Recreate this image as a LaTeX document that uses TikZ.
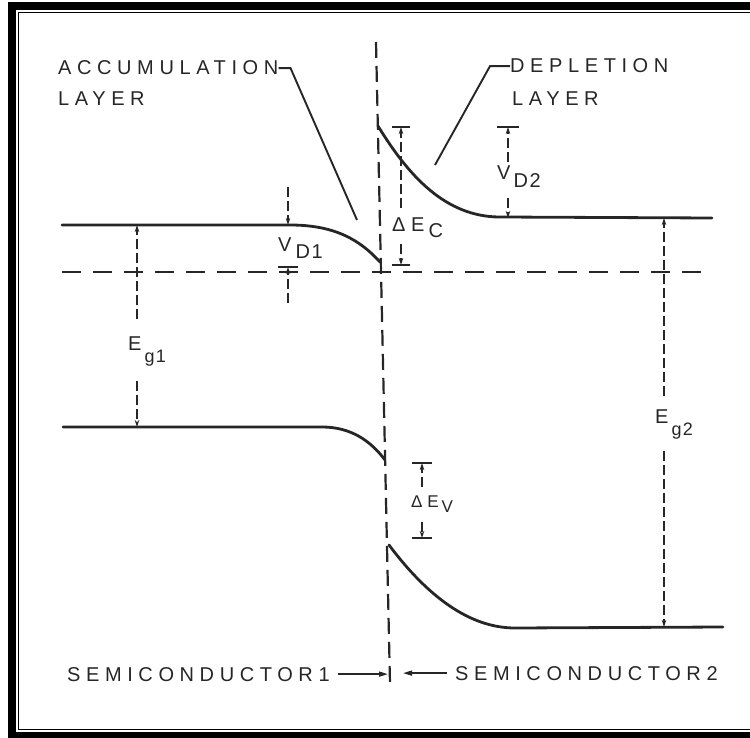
\documentclass[tikz,border=0pt]{standalone}
\usepackage{fontspec}
\newfontfamily\lettering[LetterSpace=28]{Liberation Sans}
\newfontfamily\subfont[LetterSpace=8]{Liberation Sans}
\usetikzlibrary{arrows.meta}
\definecolor{ink}{HTML}{262626}
\newcommand\lowtext{}
\newcommand\lowsub[2]{\rlap{\hspace{#1pt}\raisebox{-#2pt}{\lowtext}}}
\newcommand\subl[3]{\renewcommand\lowtext{#3}\lowsub{#1}{#2}}
\begin{document}
\begin{tikzpicture}[x=1pt,y=-1pt,
  band/.style={draw=ink,line width=2.8pt,line cap=round},
  fermi/.style={draw=ink,line width=2.6pt,dash pattern=on 19pt off 12pt},
  iface/.style={draw=ink,line width=2.2pt,dash pattern=on 16pt off 8pt},
  dimline/.style={draw=ink,line width=1.3pt,dash pattern=on 10pt off 4pt,-{Stealth[length=7pt,width=4.5pt]}},
  bar/.style={draw=ink,line width=2pt},
  leader/.style={draw=ink,line width=1.9pt},
  pointer/.style={draw=ink,line width=1.5pt,-{Triangle[length=9pt,width=5pt]}},
  lbl/.style={text=ink,inner sep=0pt,font=\lettering\fontsize{20}{22}\selectfont},
  smalllbl/.style={lbl,font=\lettering\fontsize{17}{19}\selectfont}]
\useasboundingbox (0,0) rectangle (750,738);
\draw[line width=7.8pt] (12,6) rectangle (775,736);
\draw[line width=1.4pt] (18.5,12.7) rectangle (760,729.3);
\coordinate (cb1) at (62,225); \coordinate (cb1k) at (290,225); \coordinate (cb1e) at (380,262);
\coordinate (cb2s) at (378,126); \coordinate (cb2k) at (500,217); \coordinate (cb2e) at (712,218);
\coordinate (vb1) at (63,427); \coordinate (vb1k) at (322,427); \coordinate (vb1e) at (385,460);
\coordinate (vb2s) at (389,545); \coordinate (vb2k) at (515,628); \coordinate (vb2e) at (723,627);
\draw[band] (cb1) -- (cb1k) .. controls (335,225) and (360,240) .. (cb1e);
\draw[band] (cb2s) .. controls (408,175) and (445,217) .. (cb2k) -- (cb2e);
\draw[band] (vb1) -- (vb1k) .. controls (350,427) and (370,440) .. (vb1e);
\draw[band] (vb2s) .. controls (428,597) and (470,628) .. (vb2k) -- (vb2e);
\draw[fermi] (62,272) -- (712,272);
\draw[iface] (376,42) -- (390,684);
\node[lbl,anchor=base west] (accum) at (58,75) {ACCUMULATION};
\node[lbl,anchor=base west] (accumlay) at (58,106) {LAYER};
\node[lbl,anchor=base west] (depl) at (510,73) {DEPLETION};
\node[lbl,anchor=base west] (depllay) at (512,106) {LAYER};
\coordinate (accumtip) at (357,220);
\coordinate (depltip) at (435,165);
\draw[leader] (accum.east) -- ++(12,0) -- (accumtip);
\draw[leader] (depl.west) -- ++(-20,0) -- (depltip);
\node[lbl,anchor=base west] (eg1) at (128,350) {E\subl{3}{12}{\subfont\fontsize{18}{18}\selectfont g1}};
\node[lbl,anchor=base west] (eg2) at (655,423) {E\subl{3}{12}{\subfont\fontsize{18}{18}\selectfont g2}};
\coordinate (eg1x) at (137,0); \coordinate (eg2x) at (664,0);
\draw[dimline,shorten <=17pt] (eg1.north -| eg1x) -- (eg1x |- cb1);
\draw[dimline,shorten <=15pt] (eg1.south -| eg1x) -- (eg1x |- vb1);
\draw[dimline,shorten <=13pt] (eg2.north -| eg2x) -- (eg2x |- cb2e);
\draw[dimline,shorten <=12pt] (eg2.south -| eg2x) -- (eg2x |- vb2e);
\node[lbl,anchor=base west] (vd1) at (278,252) {V\subl{4}{6}{\subfont D1}};
\coordinate (vd1up) at (288,187); \coordinate (vd1dn) at (288,303); \coordinate (vd1bar) at (288,267);
\draw[dimline] (vd1up) -- (vd1up |- cb1);
\draw[dimline] (vd1dn) -- (vd1bar);
\draw[bar] ([xshift=-10pt]vd1bar) -- ([xshift=10pt]vd1bar);
\node[lbl,anchor=base west] (vd2) at (497,180) {V\subl{3}{8}{\subfont D2}};
\coordinate (vd2bar) at (508,127);
\draw[bar] ([xshift=-11pt]vd2bar) -- ([xshift=11pt]vd2bar);
\draw[dimline,shorten <=4pt] (vd2.north -| vd2bar) -- (vd2bar);
\draw[dimline,shorten <=10pt] (vd2.south -| vd2bar) -- (vd2bar |- cb2e);
\node[lbl,anchor=base west] (dec) at (392,232) {ΔE\subl{4}{6}{C}};
\coordinate (decup) at (401,127); \coordinate (decdn) at (401,265);
\draw[bar] ([xshift=-9pt]decup) -- ([xshift=9pt]decup);
\draw[bar] ([xshift=-9pt]decdn) -- ([xshift=9pt]decdn);
\draw[dimline,shorten <=10pt] (dec.north -| decup) -- (decup);
\draw[dimline,shorten <=6pt] (dec.south -| decdn) -- (decdn);
\node[smalllbl,anchor=base west] (dev) at (411,507) {ΔE\subl{3}{5}{V}};
\coordinate (devup) at (422,463); \coordinate (devdn) at (422,538);
\draw[bar] ([xshift=-10pt]devup) -- ([xshift=10pt]devup);
\draw[bar] ([xshift=-10pt]devdn) -- ([xshift=10pt]devdn);
\draw[dimline,shorten <=8pt] (dev.north -| devup) -- (devup);
\draw[dimline,shorten <=10pt] (dev.south -| devdn) -- (devdn);
\node[lbl,anchor=base west] (semi1) at (67,681) {SEMICONDUCTOR1};
\node[lbl,anchor=base west] (semi2) at (455,680) {SEMICONDUCTOR2};
\coordinate (sp1) at (388,0); \coordinate (sp2) at (403,0);
\draw[pointer,shorten <=8pt] (semi1.east) -- (sp1 |- semi1.east);
\draw[pointer,shorten <=8pt] (semi2.west) -- (sp2 |- semi2.west);
\end{tikzpicture}
\end{document}
